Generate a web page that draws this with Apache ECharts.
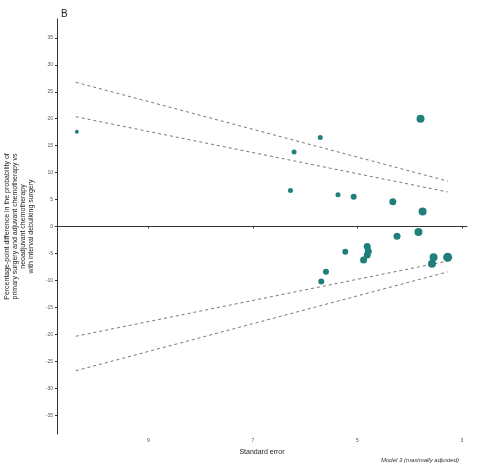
<!DOCTYPE html>
<html><head><meta charset="utf-8">
<script src="https://cdn.jsdelivr.net/npm/echarts@6/dist/echarts.min.js"></script>
<style>html,body{margin:0;background:#fff}#c{width:482px;height:464px}</style>
</head><body><div id="c"></div>
<script>
// study estimates: standard error, percentage-point difference, marker size
const se   = [10.37, 6.28, 6.21, 5.71, 5.37, 5.07, 4.32, 3.79, 3.75, 4.24, 3.83, 5.23, 4.81, 4.79, 4.81, 4.88, 5.60, 5.69, 3.54, 3.57, 3.27];
const diff = [17.6, 6.7, 13.8, 16.5, 5.9, 5.5, 4.6, 20.0, 2.8, -1.8, -1.0, -4.7, -3.7, -4.6, -5.3, -6.2, -8.4, -10.2, -5.7, -6.9, -5.7];
const size = [4, 5, 5, 5, 5, 6, 7, 8, 8, 7, 8, 6, 7, 7, 7, 7, 6, 6, 8, 8, 9];
const funnelSE = [10.39, 3.27];
const z95 = 1.96, z99 = 2.576;
const yTicks = [-35,-30,-25,-20,-15,-10,-5,0,5,10,15,20,25,30,35];
const xTicks = [9, 7, 5, 3];

const pts = se.map((s, i) => [s, diff[i], size[i]]);
const band = (z) => funnelSE.map(s => [s, z * s]);
const dash = {color: '#555', width: 0.8, type: [3, 3]};

const chart = echarts.init(document.getElementById('c'));
chart.setOption({
  animation: false,
  textStyle: {fontFamily: 'Liberation Sans'},
  title: [
    {text: 'B', left: 56, top: 4, textStyle: {fontSize: 10, fontWeight: 'normal', color: '#222'}},
    {text: 'Model 3 (maximally adjusted)', right: 18, top: 452, textStyle: {fontSize: 6, fontStyle: 'italic', fontWeight: 'normal', color: '#333'}}
  ],
  grid: {left: 57, right: 15, top: 19, bottom: 30, outerBoundsMode: 'none'},
  xAxis: {
    type: 'value', inverse: true, min: 2.9, max: 10.75,
    name: 'Standard error', nameLocation: 'middle', nameGap: 15,
    nameTextStyle: {fontSize: 7, color: '#222'},
    axisLine: {lineStyle: {color: '#333', width: 1}},
    axisTick: {show: true, customValues: xTicks, length: 2, lineStyle: {color: '#333'}},
    axisLabel: {customValues: xTicks, fontSize: 5, color: '#555', margin: 4},
    splitLine: {show: false}
  },
  yAxis: {
    type: 'value', min: -38.5, max: 38.5,
    name: 'Percentage-point difference in the probability of\nprimary surgery and adjuvant chemotherapy vs\nneoadjuvant chemotherapy\nwith interval debulking surgery',
    nameLocation: 'middle', nameGap: 18, nameRotate: 90,
    nameTextStyle: {fontSize: 7, color: '#222', lineHeight: 8},
    axisLine: {show: true, lineStyle: {color: '#333', width: 1}},
    axisTick: {show: true, customValues: yTicks, length: 2, lineStyle: {color: '#333'}},
    axisLabel: {customValues: yTicks, fontSize: 5, color: '#555', margin: 4},
    splitLine: {show: false}
  },
  series: [
    {type: 'line', data: band(z99), symbol: 'none', lineStyle: dash, silent: true},
    {type: 'line', data: band(z95), symbol: 'none', lineStyle: dash, silent: true},
    {type: 'line', data: band(-z95), symbol: 'none', lineStyle: dash, silent: true},
    {type: 'line', data: band(-z99), symbol: 'none', lineStyle: dash, silent: true,
     markLine: {symbol: 'none', silent: true, label: {show: false},
       lineStyle: {color: '#333', width: 1, type: 'solid'}, data: [{yAxis: 0}]}},
    {type: 'scatter', data: pts, symbolSize: d => d[2],
     itemStyle: {color: '#1f7f7a', opacity: 1}}
  ]
});
</script></body></html>
